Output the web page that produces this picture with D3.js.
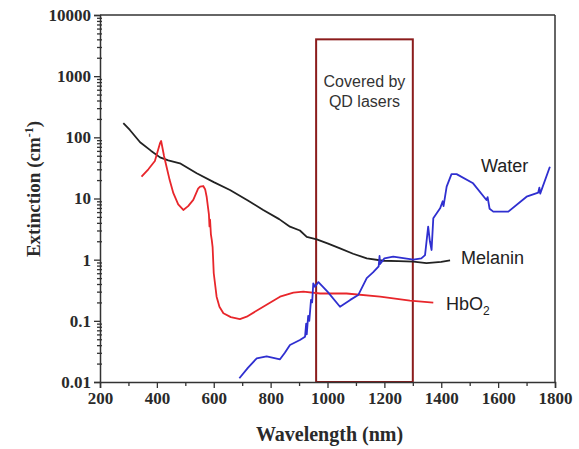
<!DOCTYPE html>
<html><head><meta charset="utf-8">
<script src="https://cdn.jsdelivr.net/npm/d3@7/dist/d3.min.js"></script>
<style>body{margin:0;background:#fff}svg{display:block}</style>
</head><body>
<svg id="c" width="579" height="449"></svg>
<script>
const xTicks = [200,400,600,800,1000,1200,1400,1600,1800];
const yTicks = [0.01,0.1,1,10,100,1000,10000];
const yTickLabels = ["0.01","0.1","1","10","100","1000","10000"];

const melaninX = [282,305,341,380,411,440,481,540,600,657,720,774,830,868,903,927,962,1000,1044,1090,1138,1196,1250,1302,1348,1400,1431];
const melaninY = [170,132,83,60,47,42,37.6,25.8,18.5,13.8,9.3,6.5,4.6,3.46,3.0,2.35,2.15,1.85,1.53,1.25,1.05,0.96,0.95,0.93,0.88,0.92,0.97];

const hbo2X = [346,370,393,411,415,425,434,445,458,475,493,510,528,545,552,563,570,575,580,583,585,587,590,593,596,600,610,620,634,660,692,716,774,833,880,915,974,1067,1185,1290,1372];
const hbo2Y = [22.7,30,41,80,87,50,33,20,12.2,8,6.5,7.5,9.5,14.5,15.6,16,14,10.7,7,5.5,3.5,4.5,2.6,2.1,1.6,0.6,0.248,0.17,0.133,0.115,0.107,0.117,0.17,0.248,0.29,0.3,0.28,0.28,0.248,0.214,0.198];

const waterX = [690,720,751,786,833,850,868,903,921,925,927,932,936,942,946,950,956,968,1000,1044,1080,1108,1138,1160,1180,1183,1185,1200,1231,1302,1330,1343,1354,1360,1366,1372,1396,1405,1408,1419,1436,1454,1512,1559,1563,1570,1583,1636,1700,1741,1745,1748,1782];
const waterY = [0.0115,0.017,0.0244,0.0263,0.0235,0.03,0.0403,0.0486,0.055,0.09,0.06,0.12,0.1,0.22,0.2,0.41,0.36,0.43,0.3,0.17,0.22,0.264,0.5,0.62,0.78,1.15,0.85,1.05,1.12,1.0,1.05,1.19,3.46,2.0,1.44,4.74,6.9,9,7.5,15.6,25,25,17.7,9.45,10.5,6.8,6.1,6.1,10.7,12.5,15,12,33];

const boxRange = [960,1300];
const boxTop = 4000;

const svg = d3.select("#c");
const L=100,R=555,T=15,B=382;
const x = d3.scaleLinear().domain([200,1800]).range([L,R]);
const y = d3.scaleLog().domain([0.01,10000]).range([B,T]);

const serif = "'Liberation Serif','Times New Roman',serif";
const sans = "'Liberation Sans',Arial,sans-serif";

// box (covered by QD lasers)
svg.append("rect")
  .attr("x", x(boxRange[0])).attr("y", y(boxTop))
  .attr("width", x(boxRange[1]) - x(boxRange[0]))
  .attr("height", y(0.01) - y(boxTop))
  .attr("fill","none").attr("stroke","#8b1c1c").attr("stroke-width",2);

const cx = x((boxRange[0]+boxRange[1])/2);
svg.append("text").attr("x",cx).attr("y",87).attr("text-anchor","middle")
  .attr("font-family",sans).attr("font-size",16).attr("fill","#333").text("Covered by");
svg.append("text").attr("x",cx).attr("y",107).attr("text-anchor","middle")
  .attr("font-family",sans).attr("font-size",16).attr("fill","#333").text("QD lasers");

const line = d3.line().x(d=>x(d[0])).y(d=>y(d[1]));
function draw(xs, ys, color){
  svg.append("path").datum(xs.map((v,i)=>[v,ys[i]]))
    .attr("d", line).attr("fill","none").attr("stroke",color)
    .attr("stroke-width",1.8).attr("stroke-linejoin","round");
}
draw(melaninX, melaninY, "#222");
draw(hbo2X, hbo2Y, "#e8262b");
draw(waterX, waterY, "#2f2fd0");

// frame
svg.append("line").attr("x1",L).attr("x2",R).attr("y1",T).attr("y2",T).attr("stroke","#333").attr("stroke-width",1.5);
svg.append("line").attr("x1",R).attr("x2",R).attr("y1",T).attr("y2",B).attr("stroke","#333").attr("stroke-width",1.5);

// x axis
svg.append("g").attr("transform",`translate(0,${B})`)
  .call(d3.axisBottom(x).tickValues(xTicks).tickSize(6).tickPadding(4).tickFormat(d3.format("d")));
svg.append("g").attr("transform",`translate(0,${B})`)
  .call(d3.axisBottom(x).tickValues(d3.range(300,1800,200)).tickSize(4).tickFormat(""))
  .select(".domain").remove();
// y axis
svg.append("g").attr("transform",`translate(${L},0)`)
  .call(d3.axisLeft(y).tickValues(yTicks).tickSize(6).tickPadding(3).tickFormat((d,i)=>yTickLabels[i]));
const minor = [];
yTicks.slice(0,-1).forEach(t=>{ for(let k=2;k<10;k++) minor.push(t*k); });
const mg = svg.append("g").attr("transform",`translate(${L},0)`)
  .call(d3.axisLeft(y).tickValues(minor).tickSize(3).tickFormat(""));
mg.select(".domain").remove();
mg.selectAll(".tick line").attr("x1",2);

svg.selectAll(".domain").attr("stroke","#333").attr("stroke-width",1.5);
svg.selectAll(".tick line").attr("stroke","#333").attr("stroke-width",1.3);
svg.selectAll(".tick text").attr("font-family",serif).attr("font-weight","bold").attr("font-size",17).attr("fill","#2a2a2a");

// axis titles
svg.append("text").attr("x",(L+R)/2+2).attr("y",441).attr("text-anchor","middle")
  .attr("font-family",serif).attr("font-weight","bold").attr("font-size",20).attr("fill","#2a2a2a")
  .text("Wavelength (nm)");
const yt = svg.append("text").attr("transform","translate(40,189) rotate(-90)").attr("text-anchor","middle")
  .attr("font-family",serif).attr("font-weight","bold").attr("font-size",19).attr("fill","#2a2a2a");
yt.append("tspan").text("Extinction (cm");
yt.append("tspan").attr("dy",-7).attr("font-size",12).text("-1");
yt.append("tspan").attr("dy",7).text(")");

// series labels
svg.append("text").attr("x",481).attr("y",172).attr("font-family",sans).attr("font-size",18).attr("fill","#222").text("Water");
svg.append("text").attr("x",461).attr("y",264).attr("font-family",sans).attr("font-size",18).attr("fill","#222").text("Melanin");
const hb = svg.append("text").attr("x",446).attr("y",310).attr("font-family",sans).attr("font-size",18).attr("fill","#222");
hb.append("tspan").text("HbO");
hb.append("tspan").attr("dy",5).attr("font-size",12).text("2");
</script>
</body></html>
